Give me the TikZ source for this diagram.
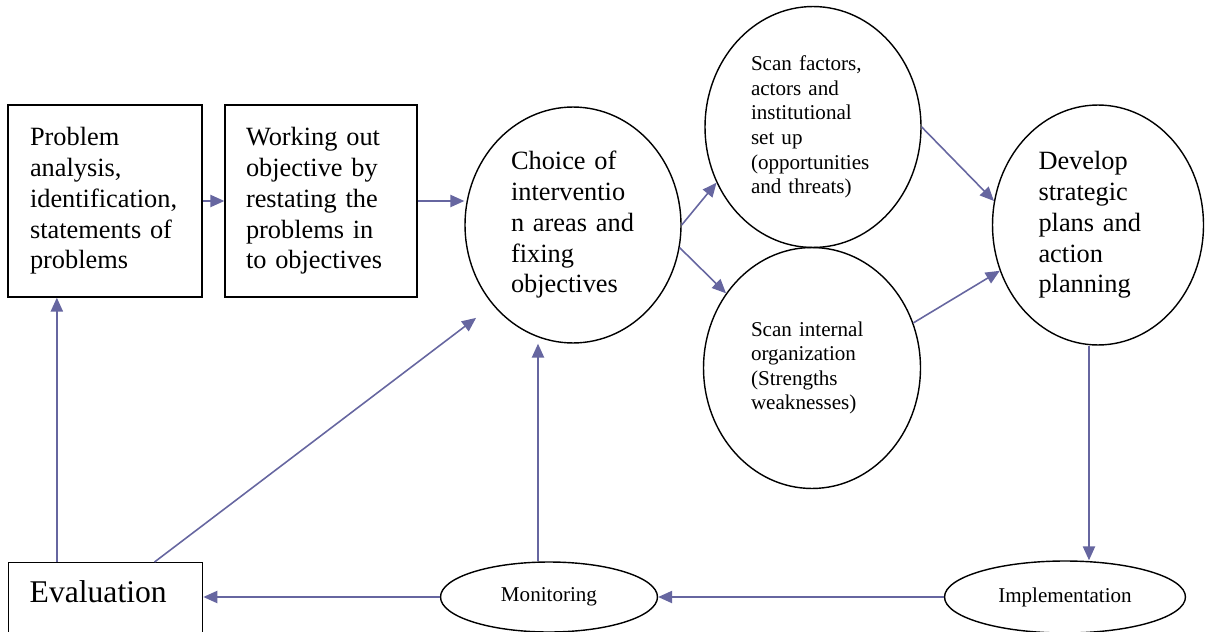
\documentclass[tikz,border=0pt]{standalone}
\usepackage{fontspec}
\setmainfont{Liberation Serif}
\usepackage{tikz}
\usetikzlibrary{positioning,shapes.geometric,arrows.meta,calc}
\definecolor{linkblue}{RGB}{102,102,160}

\begin{document}
\begin{tikzpicture}
[   x=0.02cm, y=-0.02cm,
    sbox/.style={draw=black, line width=0.8pt, rectangle, inner xsep=0.42cm, text width=3.0cm, minimum height=3.84cm, align=left, font=\fontsize{15}{17.5}\selectfont},
    bnode/.style={draw=black, line width=0.8pt, ellipse, inner sep=0pt, align=left, font=\fontsize{15}{17.5}\selectfont},
    snode/.style={bnode, font=\fontsize{12}{14}\selectfont},
    flow/.style={draw=linkblue, line width=0.9pt, -{Triangle[length=8pt,width=7pt]}},
]
    \useasboundingbox (0,0) rectangle (1207,632);
    \clip (0,0) rectangle (1207,632);

    \node[sbox, inner xsep=0.44cm, minimum width=3.88cm] (prob) at (105,201) {Problem\\ analysis,\\ identification,\\ statements of\\ problems};
    \node[sbox] (work) at (321,201) {Working out\\ objective by\\ restating the\\ problems in\\ to objectives};
    \node[bnode, minimum width=4.32cm, minimum height=4.72cm, text width=2.48cm] (choice) at (573,225) {Choice of\\ interventio\\ n areas and\\ fixing\\ objectives};
    \node[snode, minimum width=4.32cm, minimum height=4.82cm, text width=2.48cm] (factors) at (813,127) {Scan factors,\\ actors and\\ institutional\\ set up\\ (opportunities\\ and threats)};
    \node[snode, minimum width=4.34cm, minimum height=4.82cm, text width=2.44cm] (internal) at (812,368) {Scan internal\\ organization\\ (Strengths\\ weaknesses)};
    \node[bnode, minimum width=4.22cm, minimum height=4.8cm, text width=2.38cm] (develop) at (1098,225) {Develop\\ strategic\\ plans and\\ action\\ planning};
    \node[snode, minimum width=4.34cm, minimum height=1.4cm, align=center] (monitor) at (549,597) {Monitoring};
    \node[snode, minimum width=4.82cm, minimum height=1.44cm, align=center] (impl) at (1065,597) {Implementation};
    \node[draw=black, line width=0.8pt, anchor=north west, minimum width=3.88cm, text width=3.04cm, inner xsep=0.42cm, inner ysep=10.8pt, text height=12pt, text depth=15pt, align=left, font=\fontsize{18}{21}\selectfont] (eval) at (8,562) {Evaluation};

    \draw[flow] (prob.east) -- (work.west);
    \draw[flow] (work.east) -- (work.east -| choice.west);
    \draw[flow] (choice.east) -- (factors.210);
    \draw[flow] (choice.-12) -- (internal.139);
    \draw[flow] (factors.east) -- (develop.167);
    \draw[flow] (internal.24) -- (develop.205);
    \draw[flow] ($(develop.south)+(-9,0)$) coordinate (devdown) -- (devdown |- impl.north);
    \draw[flow] (impl.west) -- (monitor.east);
    \draw[flow] (monitor.west) -- (monitor.west -| eval.east);
    \draw[flow] ($(monitor.north)+(-11,0)$) coordinate (monup) -- (monup |- choice.south);
    \draw[flow] ($(eval.north west)!0.25!(eval.north east)$) coordinate (evalup) -- (evalup |- prob.south);
    \draw[flow, shorten >=12pt] ($(eval.north west)!0.75!(eval.north east)$) -- (choice.225);
\end{tikzpicture}
\end{document}
